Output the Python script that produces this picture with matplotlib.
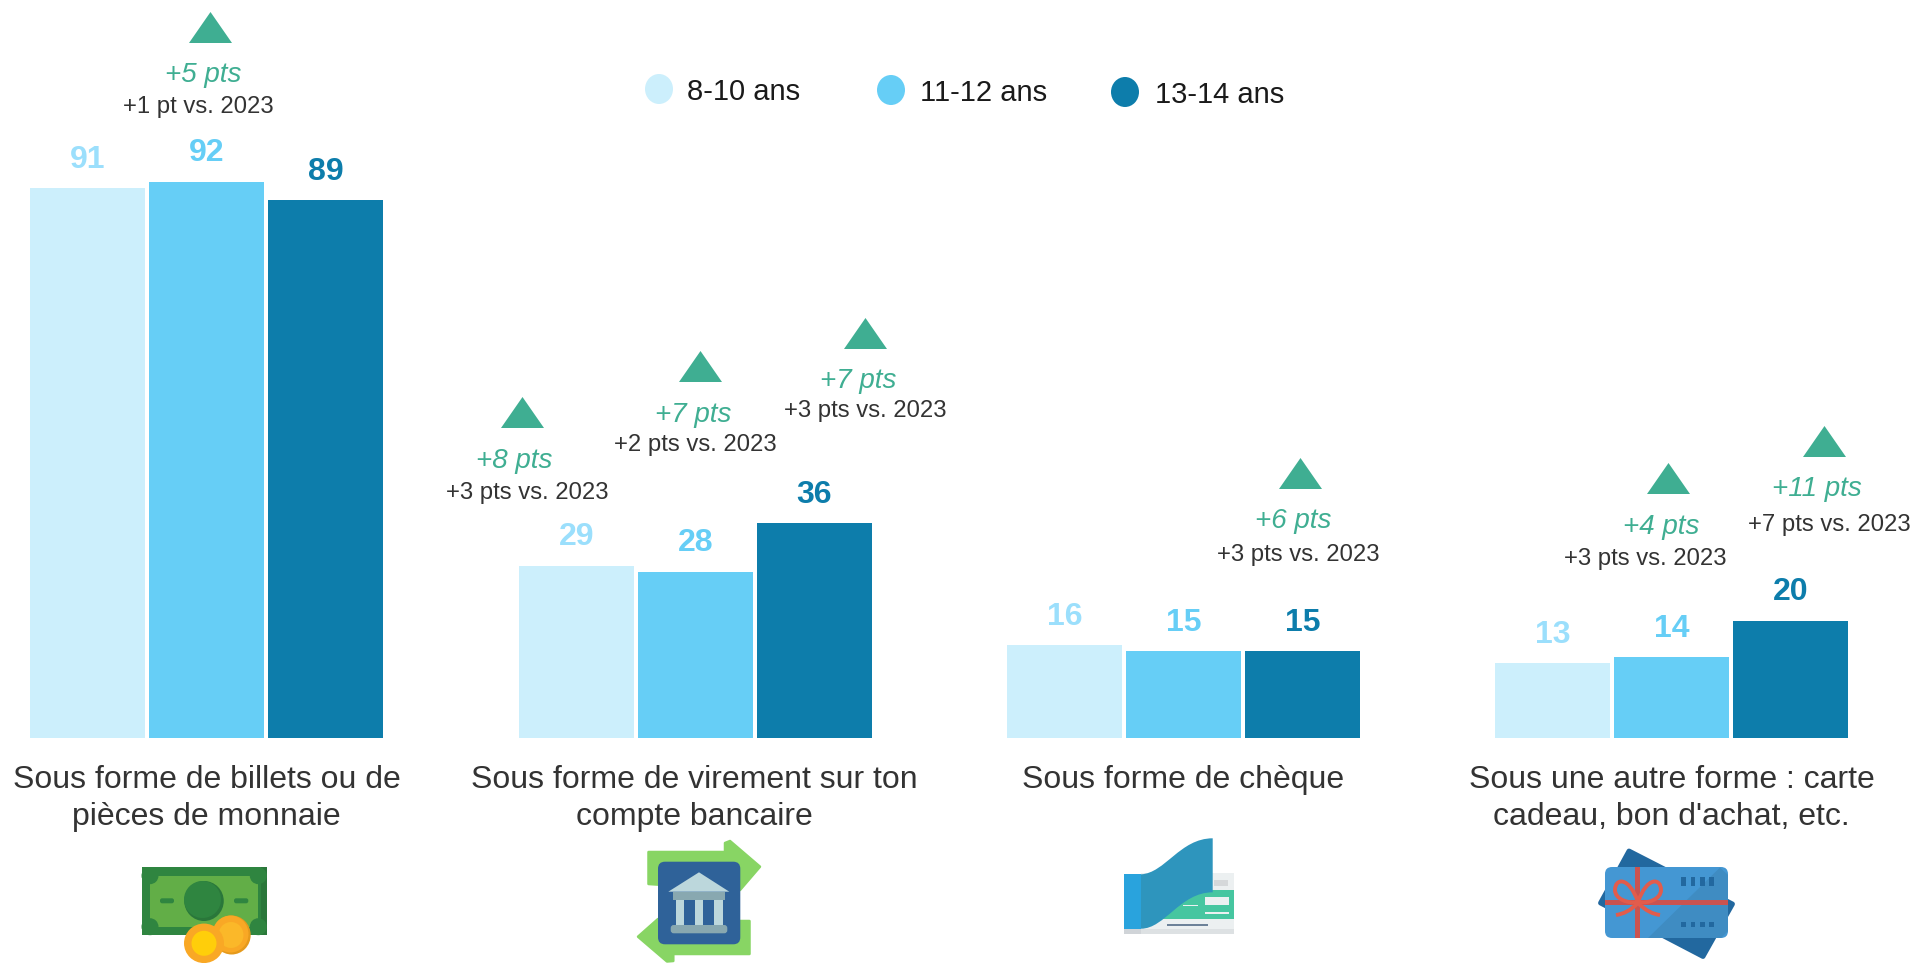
import matplotlib
matplotlib.use("Agg")
import matplotlib.pyplot as plt
from matplotlib.patches import Ellipse, FancyBboxPatch, PathPatch, Polygon, Rectangle
from matplotlib.path import Path

plt.rcParams['font.family'] = ['Liberation Sans', 'DejaVu Sans']

# Data
categories = [
    "Sous forme de billets ou de\npièces de monnaie",
    "Sous forme de virement sur ton\ncompte bancaire",
    "Sous forme de chèque",
    "Sous une autre forme : carte\ncadeau, bon d'achat, etc.",
]
ages = ["8-10 ans", "11-12 ans", "13-14 ans"]
values_8_10 = [91, 29, 16, 13]
values_11_12 = [92, 28, 15, 14]
values_13_14 = [89, 36, 15, 20]
evol_main = ["+5 pts", "+8 pts", "+7 pts", "+7 pts", "+6 pts", "+4 pts", "+11 pts"]
evol_sub = ["+1 pt vs. 2023", "+3 pts vs. 2023", "+2 pts vs. 2023", "+3 pts vs. 2023",
            "+3 pts vs. 2023", "+3 pts vs. 2023", "+7 pts vs. 2023"]

# Colours
bar_colors = ["#cceffc", "#66cef6", "#0d7dab"]
label_colors = ["#9bdffc", "#66cef6", "#0d7dab"]
up_green = "#3fae92"
dark_text = "#333333"

W, H = 1916, 963
base_y = 737.7
px_per_unit = 6.094
y_floor = 0.77  # the bars in the original start just above zero

fig = plt.figure(figsize=(W / 100, H / 100), dpi=100)

# bars: y is in survey units, x in pixels, axes bottom sits on the baseline
ax = fig.add_axes([0, (H - base_y) / H, 1, base_y / H])
ax.set_xlim(0, W)
ax.set_ylim(y_floor, y_floor + base_y / px_per_unit)
ax.axis("off")

# everything else: plain pixel coordinates
ov = fig.add_axes([0, 0, 1, 1])
ov.set_xlim(0, W)
ov.set_ylim(H, 0)
ov.axis("off")
ov.patch.set_alpha(0)

group_left = [30.5, 518.8, 1007.1, 1495.4]
bar_w = 115
bar_step = 119

for j, vals in enumerate([values_8_10, values_11_12, values_13_14]):
    xs = [g + bar_step * j + bar_w / 2 for g in group_left]
    ax.bar(xs, vals, width=bar_w, color=bar_colors[j])
    for x, v in zip(xs, vals):
        ax.annotate(str(v), (x, v), xytext=(0, 20.4), textcoords="offset points",
                    ha="center", va="center", fontsize=23, fontweight="bold",
                    color=label_colors[j])

for g, cat in zip(group_left, categories):
    ov.text(g + 176, 780 if "\n" not in cat else 798.5, cat, ha="center", va="center",
            fontsize=23, color=dark_text, linespacing=1.29)

# legend
legend_x = [659, 891, 1125]
legend_y = [89, 90, 92]
legend_text_x = [687, 920, 1155]
for i, age in enumerate(ages):
    ov.add_patch(Ellipse((legend_x[i], legend_y[i]), 28, 30, color=bar_colors[i], lw=0))
    ov.text(legend_text_x[i], legend_y[i] + 3, age, ha="left", va="center", fontsize=21, color="#1a1a1a")

# evolution callouts
tri_x = [210.5, 522.5, 700.5, 865.5, 1300.5, 1668.5, 1824.5]
tri_top = [12, 397, 351, 318, 458, 463, 426]
main_x = [203, 514, 693, 858, 1293, 1661, 1817]
main_y = [74.5, 460.5, 414.5, 381.5, 520.5, 526.5, 489.5]
sub_x = [198.5, 527, 695, 865, 1298, 1645, 1829.5]
sub_y = [106.5, 492.5, 444.5, 410.5, 555.5, 559.5, 525.5]
for i in range(len(evol_main)):
    ov.add_patch(Polygon([(tri_x[i], tri_top[i]), (tri_x[i] - 21.5, tri_top[i] + 31),
                          (tri_x[i] + 21.5, tri_top[i] + 31)], color=up_green, lw=0))
    ov.text(main_x[i], main_y[i], evol_main[i], ha="center", va="center", fontsize=20,
            style="italic", color=up_green)
    ov.text(sub_x[i], sub_y[i], evol_sub[i], ha="center", va="center", fontsize=17.2, color=dark_text)


def rect(x0, y0, x1, y1, c, z=3):
    ov.add_patch(Rectangle((x0, y0), x1 - x0, y1 - y0, color=c, lw=0, zorder=z))


def poly(pts, c, z=3, lw=0):
    ov.add_patch(Polygon(pts, closed=True, fc=c, ec=c, lw=lw, joinstyle="round", zorder=z))


def round_rect(x0, y0, x1, y1, r, c, z=3):
    ov.add_patch(FancyBboxPatch((x0 + r, y0 + r), x1 - x0 - 2 * r, y1 - y0 - 2 * r,
                                boxstyle=f"round,pad={r},rounding_size={r}", color=c, lw=0, zorder=z))


def oval(cx, cy, w, h, c, z=3):
    ov.add_patch(Ellipse((cx, cy), w, h, color=c, lw=0, zorder=z))


# icon 1: banknote and coins
rect(141.7, 867, 266.7, 935, "#2f8540")
rect(261, 867, 266.7, 935, "#2a773a")
rect(150, 875.7, 258.3, 926.7, "#62ae47")
for cx in (150, 258.3):
    for cy in (875.7, 926.7):
        oval(cx, cy, 17, 17, "#2f8540")
oval(204, 901, 39.5, 40, "#2a773a")
oval(202.5, 899.5, 37, 37, "#2f8540")
round_rect(160, 898.3, 174, 903.3, 2.2, "#2f8540")
round_rect(234, 898.3, 248.3, 903.3, 2.2, "#2f8540")
oval(231.7, 935, 38, 39, "#e59a1c", 4)
oval(230.5, 934, 36, 37, "#f9a825", 4)
oval(231, 935, 25, 26, "#fbb829", 4)
oval(204, 943.3, 40, 39.5, "#f9a825", 5)
oval(204, 943.3, 25, 25, "#ffce0a", 5)

# icon 2: bank with transfer arrows
arrow_green = "#88d564"
poly([(648.5, 852), (725, 852), (725, 843), (730, 841), (760, 866.7), (740, 890), (648.5, 884)],
     arrow_green, lw=1.8)
poly([(749.5, 921), (658, 921), (658, 919), (638, 936.7), (667, 961.5), (673.3, 961), (673.3, 954), (749.5, 954)],
     arrow_green, lw=1.8)
round_rect(658, 861.7, 740.3, 944.3, 7, "#2f6299", 4)
poly([(699, 872.3), (668.3, 891.7), (729.3, 891.7)], "#bcd7dc", 5)
rect(672.7, 891.7, 725, 900, "#88a8b0", 5)
for cx in (675.7, 695, 714.3):
    rect(cx, 900, cx + 8.4, 925, "#bcd7dc", 5)
round_rect(670.7, 925, 727.3, 933.3, 3, "#88a8b0", 5)

# icon 3: cheque book
rect(1141, 873.3, 1234, 934, "#ecf0f1")
rect(1141, 890, 1234, 919.3, "#46c6a0")
rect(1141, 928.7, 1234, 934, "#dde1e3")
rect(1124, 874.3, 1141, 928.7, "#29a3dd")
rect(1124, 928.7, 1141, 934, "#d0d4d8")
rect(1214, 880, 1228.3, 885.7, "#d5d8da")
rect(1205, 897.3, 1229.3, 905, "#ecf0f1")
rect(1205, 912.5, 1229.3, 914, "#ecf0f1")
rect(1183, 905, 1197.7, 906.5, "#ecf0f1")
rect(1166.7, 923.7, 1208.3, 925.7, "#6d8299")
curl = Path([(1141, 874.3), (1165, 873.3), (1180, 838.3), (1212.7, 838.3), (1212.7, 892.3),
             (1180, 892.3), (1165, 928.7), (1141, 928.7), (1141, 874.3)],
            [Path.MOVETO, Path.CURVE4, Path.CURVE4, Path.CURVE4, Path.LINETO,
             Path.CURVE4, Path.CURVE4, Path.CURVE4, Path.CLOSEPOLY])
ov.add_patch(PathPatch(curl, color="#2e95bd", lw=0, zorder=4))

# icon 4: gift cards
poly([(1629, 851), (1600.5, 903), (1703, 956.5), (1732.5, 904)], "#22689f", lw=3.5)
round_rect(1605, 867, 1728, 938, 7, "#4497d3", 4)
poly([(1720, 867.5), (1728, 875), (1728, 931), (1721, 938), (1648, 938)], "#3f8cc2", 5)
rect(1635.5, 867, 1640.5, 938, "#ca5350", 6)
rect(1605, 900.3, 1728, 905, "#ca5350", 6)
bow_c = "#e25c4c"
for s in (-1, 1):
    loop = Path([(1638, 902), (1638 + s * 9, 876), (1638 + s * 23, 878), (1638 + s * 23, 890),
                 (1638 + s * 23, 899), (1638 + s * 10, 904), (1638, 902)],
                [Path.MOVETO, Path.CURVE4, Path.CURVE4, Path.CURVE4, Path.CURVE4, Path.CURVE4, Path.CURVE4])
    ov.add_patch(PathPatch(loop, fill=False, ec=bow_c, lw=2.8, zorder=7))
    tail = Path([(1638, 903), (1638 + s * 8, 911), (1638 + s * 15, 914), (1638 + s * 22, 915)],
                [Path.MOVETO, Path.CURVE4, Path.CURVE4, Path.CURVE4])
    ov.add_patch(PathPatch(tail, fill=False, ec=bow_c, lw=2.8, zorder=7))
for cx in (1681, 1690.7, 1700.3, 1709.3):
    rect(cx, 876.7, cx + 4.7, 886, "#22689f", 6)
    rect(cx, 921.7, cx + 4.7, 926.7, "#22689f", 6)

fig.savefig("out.png", dpi=100, facecolor="white")
